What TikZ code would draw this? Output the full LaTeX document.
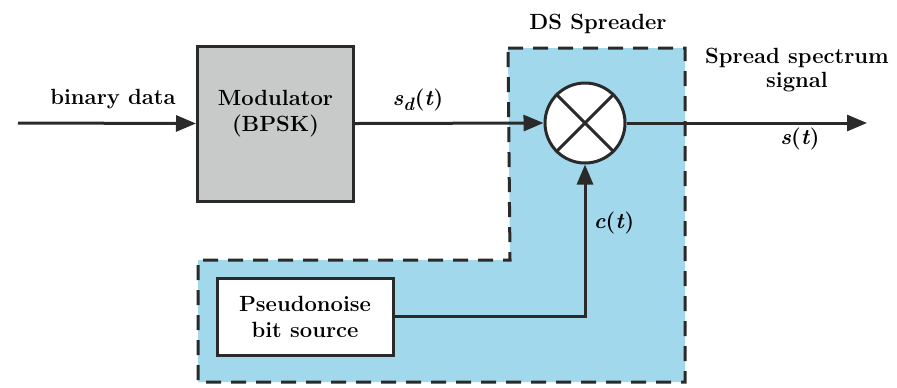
\documentclass[tikz,border=0pt]{standalone}
\usetikzlibrary{arrows.meta}
\definecolor{dsblue}{HTML}{A2D8EC}
\definecolor{modgray}{HTML}{C8C9C9}
\definecolor{edge}{HTML}{2A2A2A}
\tikzset{
  blk/.style={draw=edge, line width=1.5pt, minimum width=#1, inner sep=0pt, align=center, font=\rmfamily\bfseries\fontsize{11}{13}\selectfont},
  lbl/.style={inner sep=0pt, align=center, font=\rmfamily\bfseries\fontsize{11}{12}\selectfont},
  sig/.style={draw=edge, line width=1.5pt},
  arr/.style={sig, -{Triangle[length=10pt,width=8pt]}},
  region/.style={fill=dsblue, draw=edge, line width=1.5pt, dash pattern=on 7.5pt off 5pt}
}
\begin{document}
\begin{tikzpicture}[x=0.5pt,y=-0.5pt]
\useasboundingbox (0,0) rectangle (897,387);
% DS spreader region
\path[region] (508,48) -- (685,48) -- (685,382) -- (198,382) -- (198,260) -- (510,260) -- cycle;
% blocks
\node[blk=78pt, minimum height=77.5pt, fill=modgray] (mod) at (275.5,123.5) {};
\node[blk=0pt, draw=none] (modtxt) at (275.5,114) {Modulator\\(BPSK)};
\node[draw=edge, line width=1.5pt, fill=white, circle, minimum size=40pt, inner sep=0pt] (mix) at (585,123) {};
\draw[sig] (mix.north west) -- (mix.south east);
\draw[sig] (mix.north east) -- (mix.south west);
\node[blk=88pt, minimum height=38.5pt, fill=white] (pn) at (305,316.5) {Pseudonoise\\bit source};
% connectors
\coordinate (in) at (18,123);
\coordinate (out) at (867,123);
\draw[arr] (in) -- (mod.west);
\draw[arr] (mod.east) -- (mix.west);
\draw[arr] (mix.east) -- (out);
\draw[arr] (pn.east) -| (mix.south);
% labels
\node[lbl] (lbin) at (113,99) {binary data};
\node[lbl] (lsd) at (418,100) {\textit{s}\raisebox{-2.5pt}{\fontsize{9}{9}\selectfont\textit{d}}(\textit{t})};
\node[lbl] (lds) at (598,24) {DS Spreader};
\node[lbl] (lsp) at (797,70) {Spread spectrum\\signal};
\node[lbl] (lst) at (800,139) {\textit{s}(\textit{t})};
\node[lbl] (lct) at (614,223) {\textit{c}(\textit{t})};
\end{tikzpicture}
\end{document}
